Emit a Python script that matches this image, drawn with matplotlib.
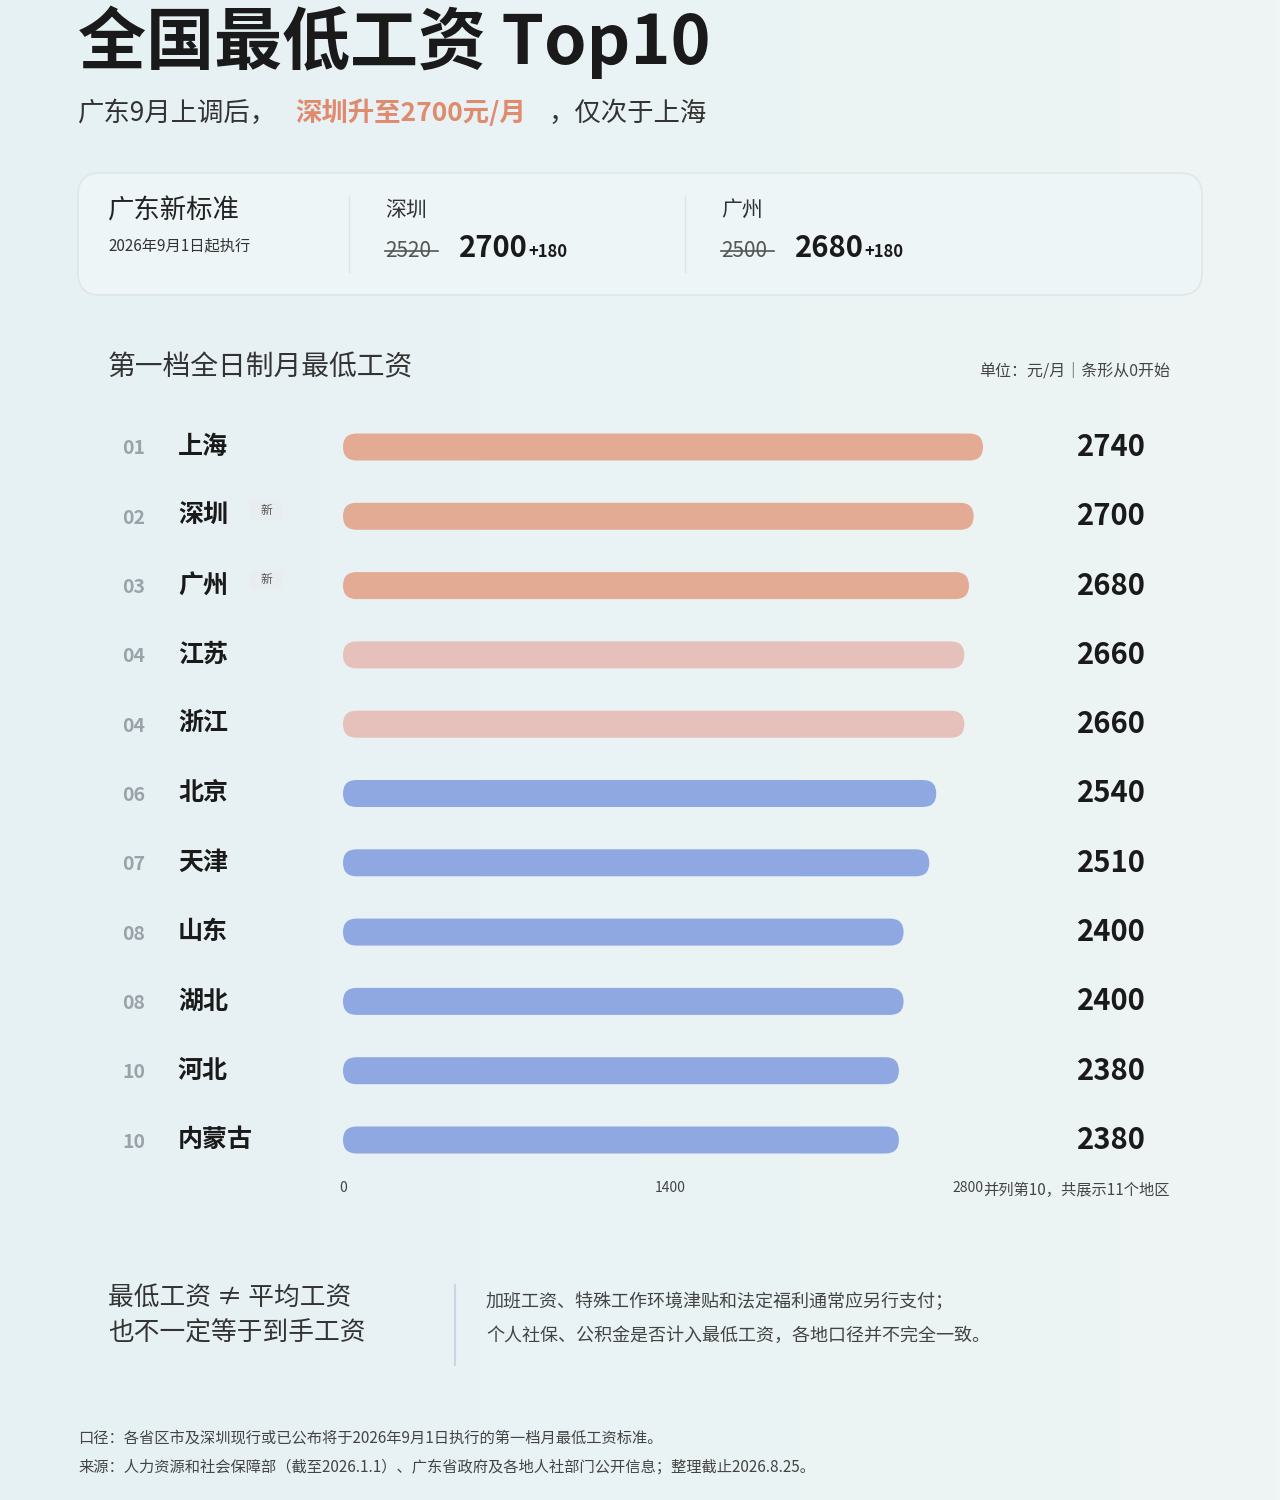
import matplotlib
matplotlib.use("Agg")
import matplotlib.pyplot as plt
from matplotlib.patches import FancyBboxPatch
from matplotlib.colors import LinearSegmentedColormap
import numpy as np

plt.rcParams['font.family'] = ['Noto Sans CJK SC', 'DejaVu Sans']

ranks = ["01", "02", "03", "04", "04", "06", "07", "08", "08", "10", "10"]
regions = ["上海", "深圳", "广州", "江苏", "浙江", "北京", "天津", "山东", "湖北", "河北", "内蒙古"]
values = [2740, 2700, 2680, 2660, 2660, 2540, 2510, 2400, 2400, 2380, 2380]
is_new = [False, True, True, False, False, False, False, False, False, False, False]
tiers = ["hot", "hot", "hot", "warm", "warm", "cool", "cool", "cool", "cool", "cool", "cool"]
tier_colors = {"hot": "#e4ab94", "warm": "#e6c0ba", "cool": "#8fa8e2"}
ticks = [0, 1400, 2800]

W, H = 1280, 1500
fig = plt.figure(figsize=(12.8, 15), dpi=100)
bg = fig.add_axes([0, 0, 1, 1])
grad = np.linspace(0, 1, 256).reshape(1, -1)
cm = LinearSegmentedColormap.from_list("g", ["#e6f1f5", "#eef5f3"])
bg.imshow(grad, cmap=cm, extent=[0, W, H, 0], aspect='auto')
bg.set_xlim(0, W); bg.set_ylim(H, 0); bg.axis('off')

def T(x, y, s, size, color="#222222", weight="normal", ha="left", va="center", **kw):
    bg.text(x, y, s, fontsize=size, color=color, fontweight=weight, ha=ha, va=va, **kw)

T(78, 42, "全国最低工资 Top10", 49, "#1a1a1a", "bold")
T(78, 113, "广东9月上调后，", 19, "#333")
T(295, 113, "深圳升至2700元/月", 19, "#e08a6e", "bold")
T(548, 113, "，仅次于上海", 19, "#333")

card = FancyBboxPatch((78, 173), 1124, 122, boxstyle="round,pad=0,rounding_size=22",
                      fc="#eef5f7", ec="#dde6ea", lw=1.2)
bg.add_patch(card)
T(108, 211, "广东新标准", 19, "#222")
T(108, 246, "2026年9月1日起执行", 11, "#333")
bg.plot([349, 349], [196, 272], color="#dde3e6", lw=1)
bg.plot([685, 685], [196, 272], color="#dde3e6", lw=1)
for x0, city, old, new in [(385, "深圳", "2520", "2700"), (721, "广州", "2500", "2680")]:
    T(x0, 210, city, 15, "#333")
    T(x0, 251, old, 15, "#555")
    bg.plot([x0, x0 + 53], [251, 251], color="#555", lw=1.2)
    T(x0 + 74, 248, new, 21, "#1a1a1a", "bold")
    T(x0 + 143, 252, "+180", 12, "#1a1a1a", "bold")

T(108, 367, "第一档全日制月最低工资", 20, "#333")
T(1170, 371, "单位：元/月｜条形从0开始", 11.5, "#444", ha="right")

x0px, x1px = 343, 997
ytop, ybot = 412, 1175
ax = fig.add_axes([x0px / W, 1 - ybot / H, (x1px - x0px) / W, (ybot - ytop) / H])
ax.set_xlim(0, 2800); ax.set_ylim(ybot, ytop); ax.axis('off')
xu_per_px = 2800 / (x1px - x0px)
rows = [447 + 69.3 * i for i in range(len(values))]
bh = 27
for y, v, t in zip(rows, values, tiers):
    ax.add_patch(FancyBboxPatch((0, y - bh / 2), v, bh,
                                boxstyle=f"round,pad=0,rounding_size={bh/2*xu_per_px}",
                                mutation_aspect=1 / xu_per_px, fc=tier_colors[t], ec="none"))
for y, r, reg, v, nw in zip(rows, ranks, regions, values, is_new):
    T(122, y + 2, r, 14, "#9aa3aa", "bold")
    T(178, y, reg, 18, "#1a1a1a", "bold")
    T(1146, y, f"{v}", 21, "#1a1a1a", "bold", ha="right")
    if nw:
        bg.add_patch(FancyBboxPatch((249, y - 16), 34, 20, boxstyle="round,pad=0,rounding_size=4",
                                    fc="#e8eef0", ec="none"))
        T(266, y - 6, "新", 8.5, "#555", ha="center")
for tk in ticks[:-1]:
    bg.text(x0px + tk / xu_per_px, 1188, str(tk), fontsize=10, color="#444", ha="center", va="center")
bg.text(x0px + ticks[-1] / xu_per_px - 14, 1188, str(ticks[-1]), fontsize=10, color="#444",
        ha="right", va="center")
T(1170, 1190, "并列第10，共展示11个地区", 11, "#444", ha="right")

T(108, 1298, "最低工资 ≠ 平均工资", 18.5, "#333")
T(108, 1334, "也不一定等于到手工资", 18.5, "#333")
bg.plot([455, 455], [1285, 1365], color="#c9d6e4", lw=1.5)
T(486, 1302, "加班工资、特殊工作环境津贴和法定福利通常应另行支付；", 13, "#444")
T(486, 1336, "个人社保、公积金是否计入最低工资，各地口径并不完全一致。", 13, "#444")

T(78, 1438, "口径：各省区市及深圳现行或已公布将于2026年9月1日执行的第一档月最低工资标准。", 11, "#444")
T(78, 1467, "来源：人力资源和社会保障部（截至2026.1.1）、广东省政府及各地人社部门公开信息；整理截止2026.8.25。", 11, "#444")

fig.savefig("out.png", dpi=100)
